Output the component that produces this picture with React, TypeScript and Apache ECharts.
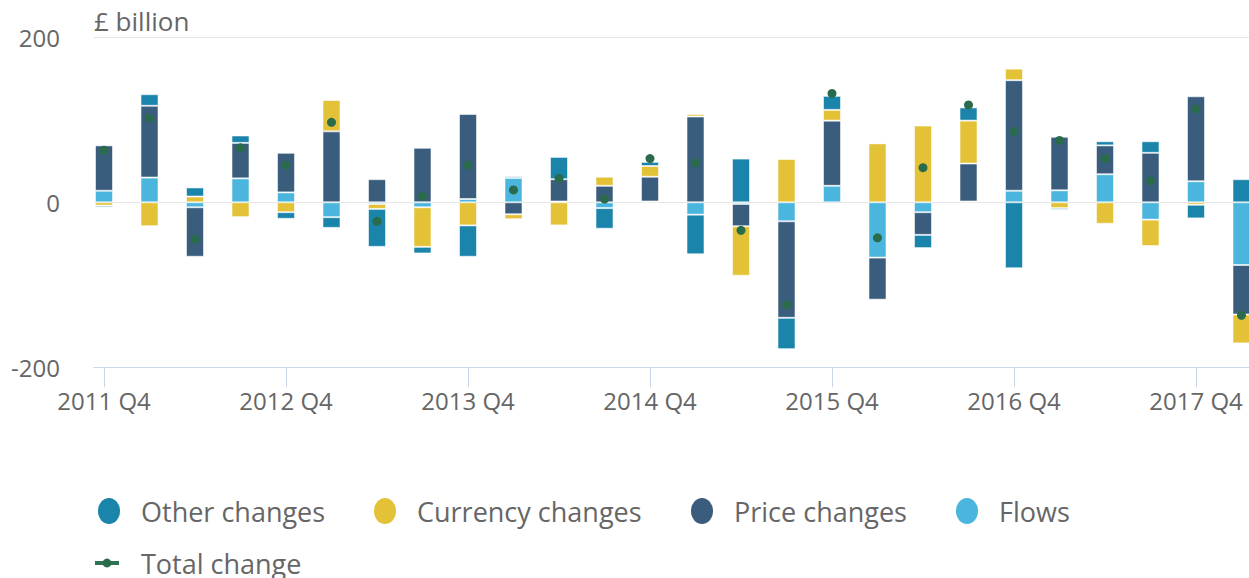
import React, { useEffect, useRef } from 'react';
import * as echarts from 'echarts';

const FONT = '"Open Sans", "Noto Sans", sans-serif';

const quarters = [
  '2011 Q4', '2012 Q1', '2012 Q2', '2012 Q3', '2012 Q4', '2013 Q1', '2013 Q2', '2013 Q3',
  '2013 Q4', '2014 Q1', '2014 Q2', '2014 Q3', '2014 Q4', '2015 Q1', '2015 Q2', '2015 Q3',
  '2015 Q4', '2016 Q1', '2016 Q2', '2016 Q3', '2016 Q4', '2017 Q1', '2017 Q2', '2017 Q3',
  '2017 Q4', '2018 Q1',
];
const tickLabels = ['2011 Q4', '2012 Q4', '2013 Q4', '2014 Q4', '2015 Q4', '2016 Q4', '2017 Q4'];

const flows = [14, 30, -6, 29, 12, -18, -2, -6, 4, 29.5, 1, -7, 1, -15, -2, -23, 20, -67, -12, 1, 14, 14.5, 34, -21, 25.5, -76];
const priceChanges = [55, 87, -60, 43, 48, 86, 28, 66, 103, -14.5, 27, 20, 30, 104, -27, -117, 79, -51, -27.5, 46, 134, 65, 35, 60, 103, -60];
const currencyChanges = [-4, -29, 7, -18, -12, 38, -6, -48, -28, -6, -28, 11, 13, 3, -60, 52.5, 13, 71.5, 93, 52, 14, -7, -26, -32, -3, -35];
const otherChanges = [-2, 14, 11, 9, -8, -13, -46, -8, -38, 2, 27, -25, 5, -48, 53, -38, 17, 0, -16, 16, -80, -2, 5, 14, -16.5, 28];
const totalChange = [63, 102, -45, 66, 45, 97, -23, 7, 45, 15, 29, 4, 53, 48, -34, -124, 132, -43, 42, 118, 86, 75, 53, 26, 113, -137];

const COLORS = {
  other: '#1a84ab',
  currency: '#e3c237',
  price: '#3a5d7e',
  flows: '#4ab5dd',
  total: '#2a6b4b',
};

const ELLIPSE = 'path://M11,0A11,13,0,1,1,11,26A11,13,0,1,1,11,0Z';

export default function App() {
  const ref = useRef<HTMLDivElement>(null);

  useEffect(() => {
    if (!ref.current) return;
    const chart = echarts.init(ref.current, undefined, { renderer: 'svg' });
    const tickIdx = tickLabels.map((l) => quarters.indexOf(l));

    // geometry: visible axis spans x 94..1249; quarter pitch 45.5px, first quarter at x 104
    const W = 1249;
    const plotTop = 37.3;
    const plotBottom = 578 - 367.3;
    const pitch = 45.5;
    const firstX = 104;
    const visLeft = 94;
    const xMin = -(firstX - visLeft) / pitch;
    const xMax = xMin + (W - visLeft) / pitch;
    const catLeft = firstX - pitch / 2;
    const catWidth = pitch * quarters.length;

    const barLegend = (name: string, left: number) => ({
      data: [name],
      left,
      top: 497.5,
      padding: 0,
      itemWidth: 22,
      itemHeight: 26,
      icon: ELLIPSE,
      selectedMode: false,
      itemStyle: { borderWidth: 0 },
      textStyle: { fontSize: 27, color: '#666', fontFamily: FONT, padding: [0, 0, 0, 16] },
    });

    const barSeries = (name: string, data: number[], color: string) => ({
      name,
      type: 'bar',
      stack: 'total',
      barWidth: 18,
      xAxisIndex: 1,
      yAxisIndex: 1,
      data,
      itemStyle: { color, borderColor: 'rgba(255,255,255,0.55)', borderWidth: 1 },
    });

    chart.setOption({
      animation: false,
      textStyle: { fontFamily: FONT },
      title: {
        text: '£ billion',
        left: 94,
        top: 8,
        padding: 0,
        textStyle: { fontSize: 26, fontWeight: 'normal', color: '#666', fontFamily: FONT },
      },
      grid: [
        { left: visLeft, right: 0, top: plotTop, bottom: plotBottom, containLabel: false, outerBoundsMode: 'none' },
        { left: catLeft, width: catWidth, top: plotTop, bottom: plotBottom, containLabel: false, outerBoundsMode: 'none' },
      ],
      xAxis: [
        {
          type: 'value',
          gridIndex: 0,
          min: xMin,
          max: xMax,
          splitLine: { show: false },
          axisLine: { show: true, onZero: false, lineStyle: { color: '#ccd6eb', width: 1 } },
          axisTick: { show: true, length: 20, customValues: tickIdx, lineStyle: { color: '#ccd6eb', width: 1 } },
          axisLabel: {
            customValues: tickIdx,
            formatter: (v: number) => quarters[Math.round(v)],
            fontSize: 24,
            color: '#666',
            margin: 21,
            fontFamily: FONT,
          },
        },
        {
          type: 'category',
          gridIndex: 1,
          data: quarters,
          boundaryGap: true,
          show: false,
        },
      ],
      yAxis: [
        {
          type: 'value',
          gridIndex: 0,
          min: -200,
          max: 200,
          interval: 200,
          axisLine: { show: false },
          axisTick: { show: false },
          axisLabel: { fontSize: 24, color: '#666', margin: 34, padding: [6, 0, 0, 0], fontFamily: FONT },
          splitLine: { lineStyle: { color: '#e6e6e6', width: 1 } },
        },
        {
          type: 'value',
          gridIndex: 1,
          min: -200,
          max: 200,
          interval: 200,
          show: false,
          splitLine: { show: false },
        },
      ],
      legend: [
        barLegend('Other changes', 98),
        barLegend('Currency changes', 374),
        barLegend('Price changes', 691),
        barLegend('Flows', 956),
        {
          data: ['Total change'],
          left: 93,
          top: 549.5,
          padding: 0,
          itemWidth: 24,
          itemHeight: 11,
          selectedMode: false,
          lineStyle: { color: '#2e7454', width: 4, opacity: 1 },
          itemStyle: { color: COLORS.total, opacity: 1 },
          textStyle: { fontSize: 27, color: '#666', fontFamily: FONT, padding: [0, 0, 0, 17] },
        },
      ],
      series: [
        barSeries('Flows', flows, COLORS.flows),
        barSeries('Price changes', priceChanges, COLORS.price),
        barSeries('Currency changes', currencyChanges, COLORS.currency),
        barSeries('Other changes', otherChanges, COLORS.other),
        {
          name: 'Total change',
          type: 'line',
          xAxisIndex: 1,
          yAxisIndex: 1,
          data: totalChange,
          symbol: 'circle',
          symbolSize: 9,
          z: 5,
          itemStyle: { color: COLORS.total },
          lineStyle: { width: 0, color: COLORS.total },
        },
      ],
    });

    return () => chart.dispose();
  }, []);

  return (
    <div
      ref={ref}
      style={{ position: 'absolute', left: 0, top: 0, width: 1249, height: 578 }}
    />
  );
}
